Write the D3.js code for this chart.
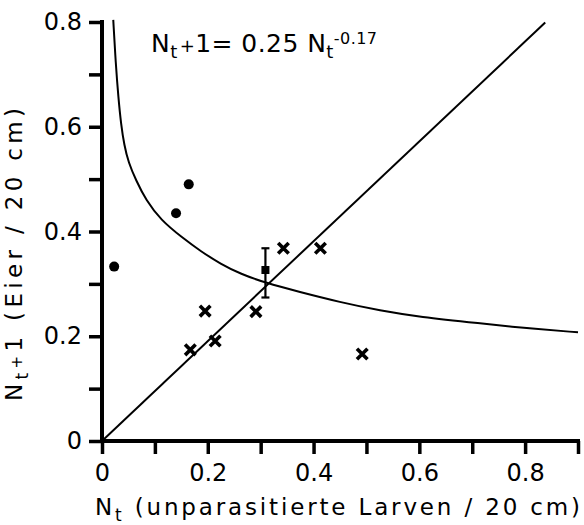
<!DOCTYPE html>
<html>
<head>
<meta charset="utf-8">
<script src="https://cdn.jsdelivr.net/npm/d3@7/dist/d3.min.js"></script>
<style>
  html, body { margin: 0; padding: 0; background: #fff; }
  svg { display: block; }
  text { font-family: "DejaVu Sans", sans-serif; fill: #000; }
</style>
</head>
<body>
<svg id="chart" width="584" height="525"></svg>
<script>
// Axis ticks (every 0.1, labelled every 0.2)
const xTicks = [0, 0.1, 0.2, 0.3, 0.4, 0.5, 0.6, 0.7, 0.8, 0.9];
const yTicks = [0, 0.1, 0.2, 0.3, 0.4, 0.5, 0.6, 0.7, 0.8];
const xLabels = ["0", "", "0.2", "", "0.4", "", "0.6", "", "0.8", ""];
const yLabels = ["0", "", "0.2", "", "0.4", "", "0.6", "", "0.8"];

// Filled circles: [N_t, N_t+1]
const dotX = [0.023, 0.140, 0.164];
const dotY = [0.333, 0.435, 0.490];

// Crosses: [N_t, N_t+1]
const crossX = [0.167, 0.195, 0.214, 0.291, 0.343, 0.413, 0.492];
const crossY = [0.174, 0.248, 0.191, 0.247, 0.368, 0.368, 0.166];

// Mean with error bar
const meanX = [0.309];
const meanY = [0.3265];
const meanLow = [0.274];
const meanHigh = [0.368];

// Fitted recruitment curve
const curveX = [0.0213, 0.026, 0.031, 0.036, 0.042, 0.050, 0.0642, 0.083, 0.111, 0.152, 0.187, 0.2245, 0.262, 0.309, 0.372, 0.45, 0.526, 0.60, 0.715, 0.801, 0.9];
const curveY = [0.804, 0.72, 0.655, 0.605, 0.565, 0.532, 0.498, 0.460, 0.422, 0.388, 0.362, 0.338, 0.319, 0.302, 0.285, 0.265, 0.249, 0.237, 0.2245, 0.2155, 0.2075];

// Replacement line N_t+1 = N_t
const diagX = [0, 0.838];
const diagY = [0, 0.799];

const svg = d3.select("#chart");
const x = d3.scaleLinear().domain([0, 0.9]).range([102, 578]);
const y = d3.scaleLinear().domain([0, 0.8]).range([441, 22]);

// Axes
const xAxis = d3.axisBottom(x)
  .tickValues(xTicks)
  .tickFormat((d, i) => xLabels[i])
  .tickSize(13).tickSizeOuter(0).tickPadding(10);
const yAxis = d3.axisLeft(y)
  .tickValues(yTicks)
  .tickFormat((d, i) => yLabels[i])
  .tickSize(13).tickSizeOuter(0).tickPadding(7);

const gx = svg.append("g").attr("transform", `translate(0,${y(0)})`).call(xAxis);
const gy = svg.append("g").attr("transform", `translate(${x(0)},0)`).call(yAxis);
[gx, gy].forEach(g => {
  g.select(".domain").attr("stroke", "#000").attr("stroke-width", 4);
  g.selectAll(".tick line").attr("stroke", "#000").attr("stroke-width", 3.5);
  g.selectAll(".tick text").attr("font-size", 24).attr("font-family", "DejaVu Sans, sans-serif").attr("fill", "#000");
});
gx.select(".domain").attr("d", `M${x(0) - 2},0H${x(0.9) + 2}`);
gy.select(".domain").attr("d", `M0,${y(0) + 2}V${y(0.8) - 2}`);

// Lines
const line = d3.line().x(d => x(d[0])).y(d => y(d[1]));
svg.append("path")
  .datum(diagX.map((v, i) => [v, diagY[i]]))
  .attr("d", line)
  .attr("fill", "none").attr("stroke", "#000").attr("stroke-width", 2);
svg.append("path")
  .datum(curveX.map((v, i) => [v, curveY[i]]))
  .attr("d", line.curve(d3.curveBasis))
  .attr("fill", "none").attr("stroke", "#000").attr("stroke-width", 2);

// Circles
svg.append("g").selectAll("circle")
  .data(dotX.map((v, i) => [v, dotY[i]]))
  .join("circle")
  .attr("cx", d => x(d[0])).attr("cy", d => y(d[1])).attr("r", 5)
  .attr("fill", "#000");

// Crosses
const cg = svg.append("g").selectAll("g")
  .data(crossX.map((v, i) => [v, crossY[i]]))
  .join("g")
  .attr("transform", d => `translate(${x(d[0])},${y(d[1])})`);
cg.append("path")
  .attr("d", "M-4,-4L4,4M-4,4L4,-4")
  .attr("stroke", "#000").attr("stroke-width", 3.6).attr("stroke-linecap", "square");

// Mean with error bar
meanX.forEach((mx, i) => {
  const cx = x(mx);
  const g = svg.append("g").attr("stroke", "#000").attr("stroke-width", 2.2);
  g.append("line").attr("x1", cx).attr("x2", cx).attr("y1", y(meanLow[i])).attr("y2", y(meanHigh[i]));
  g.append("line").attr("x1", cx - 4).attr("x2", cx + 4).attr("y1", y(meanLow[i])).attr("y2", y(meanLow[i]));
  g.append("line").attr("x1", cx - 4).attr("x2", cx + 4).attr("y1", y(meanHigh[i])).attr("y2", y(meanHigh[i]));
  svg.append("rect").attr("x", cx - 4).attr("y", y(meanY[i]) - 4).attr("width", 8).attr("height", 8).attr("fill", "#000");
});

// Equation
const eq = svg.append("text").attr("x", 151).attr("y", 52).attr("font-size", 25)
  .attr("textLength", 226).attr("lengthAdjust", "spacing");
eq.append("tspan").text("N");
eq.append("tspan").attr("font-size", 18).attr("dy", 6).text("t");
eq.append("tspan").attr("dy", -6).attr("font-size", 18).attr("dx", 2).text("+");
eq.append("tspan").text("1= 0.25 N");
eq.append("tspan").attr("font-size", 18).attr("dy", 6).text("t");
eq.append("tspan").attr("font-size", 16).attr("dy", -14).text("-0.17");

// X axis title
const xt = svg.append("text").attr("x", 95).attr("y", 515).attr("font-size", 23)
  .attr("textLength", 485).attr("lengthAdjust", "spacing");
xt.append("tspan").text("N");
xt.append("tspan").attr("font-size", 17).attr("dy", 6).text("t");
xt.append("tspan").attr("dy", -6).text(" (unparasitierte Larven / 20 cm)");

// Y axis title
const yt = svg.append("text").attr("transform", "translate(22,401) rotate(-90)").attr("font-size", 23)
  .attr("textLength", 293).attr("lengthAdjust", "spacing");
yt.append("tspan").text("N");
yt.append("tspan").attr("font-size", 17).attr("dy", 6).text("t");
yt.append("tspan").attr("font-size", 15).attr("dy", -6).text("+");
yt.append("tspan").text("1 (Eier / 20 cm)");
</script>
</body>
</html>
